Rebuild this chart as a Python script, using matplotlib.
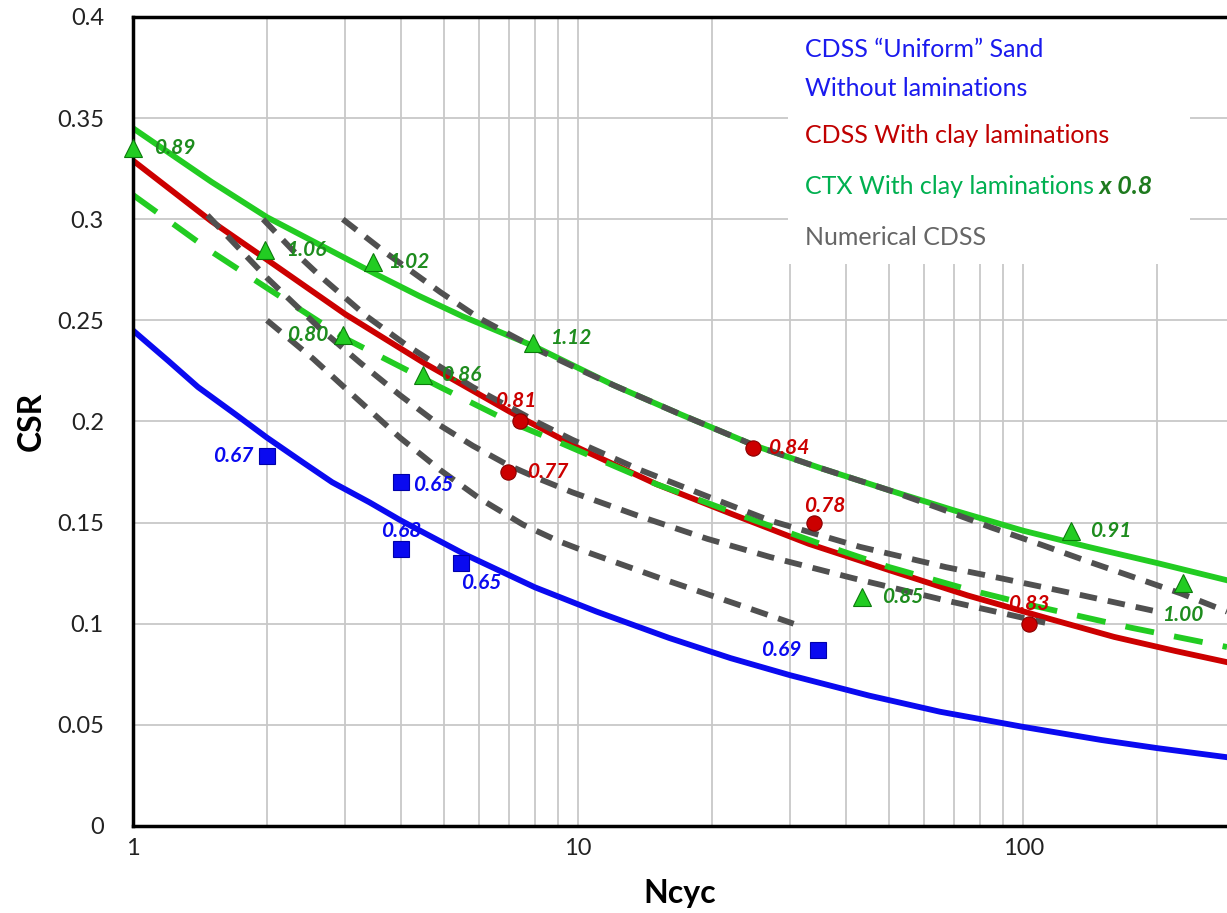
import matplotlib.pyplot as plt
from matplotlib.patches import Rectangle

plt.rcParams['font.family'] = ['Lato', 'DejaVu Sans']

# ---- fitted curves ----
blue_n = [1, 1.2, 1.4, 1.7, 2, 2.4, 2.8, 3.4, 4, 5.6, 8, 11, 16, 22, 30, 45, 65, 100, 150, 200, 287]
blue_csr = [0.245, 0.230, 0.217, 0.2035, 0.192, 0.180, 0.170, 0.160, 0.151, 0.134, 0.118, 0.106,
            0.093, 0.083, 0.0745, 0.0645, 0.0565, 0.049, 0.0425, 0.0385, 0.034]

red_n = [1, 1.5, 2, 3, 4.5, 7, 10, 15, 22, 33, 50, 75, 110, 160, 220, 287]
red_csr = [0.329, 0.299, 0.280, 0.253, 0.229, 0.205, 0.187, 0.169, 0.1545, 0.1395, 0.1265,
           0.114, 0.1035, 0.0935, 0.0865, 0.081]

green_n = [1, 1.5, 2, 2.7, 3.5, 4.4, 5.5, 8, 10, 12, 17, 25, 35, 50, 70, 100, 140, 200, 287]
green_csr = [0.345, 0.3185, 0.301, 0.286, 0.273, 0.262, 0.252, 0.237, 0.2265, 0.218, 0.2035,
             0.188, 0.177, 0.166, 0.156, 0.146, 0.138, 0.130, 0.1215]

gdash_n = [1, 1.5, 2, 3, 4.9, 7, 9, 15, 25, 35, 50, 75, 105, 175, 287]
gdash_csr = [0.312, 0.284, 0.266, 0.241, 0.217, 0.200, 0.190, 0.169, 0.151, 0.1395, 0.128,
             0.117, 0.109, 0.098, 0.0885]

# ---- numerical CDSS (gray dashed) ----
num_a_n = [1.47, 2, 2.63, 3.24, 3.98, 4.9, 5.8, 6.95, 8.2, 9.7, 13.8, 19.5, 27, 41.5, 67, 112]
num_a_csr = [0.302, 0.271, 0.246, 0.229, 0.213, 0.198, 0.188, 0.1785, 0.1715, 0.165, 0.153,
             0.142, 0.133, 0.1225, 0.1115, 0.1005]

num_b_n = [1.96, 2.3, 2.63, 3.35, 4.1, 4.9, 5.8, 6.9, 8.2, 9.7, 13.8, 19.5, 27, 43, 67, 89, 136, 205]
num_b_csr = [0.300, 0.284, 0.272, 0.252, 0.238, 0.227, 0.217, 0.208, 0.199, 0.191, 0.176, 0.163,
             0.151, 0.138, 0.128, 0.1225, 0.114, 0.1055]

num_c_n = [2.96, 3.72, 4.9, 6.0, 7.3, 8.2, 10, 12, 17, 25, 35, 50, 65, 85, 110, 139, 180, 226, 287]
num_c_csr = [0.300, 0.283, 0.264, 0.251, 0.241, 0.235, 0.226, 0.218, 0.2035, 0.188, 0.177, 0.166,
             0.157, 0.1475, 0.139, 0.131, 0.1225, 0.115, 0.106]

num_d_n = [2.0, 2.54, 3.12, 3.98, 4.9, 6, 7.52, 9, 10.6, 15.3, 22.5, 30.5]
num_d_csr = [0.250, 0.231, 0.213, 0.192, 0.176, 0.162, 0.149, 0.141, 0.135, 0.1225, 0.110, 0.100]

# ---- test points ----
sq_n = [2, 4, 4, 5.45, 34.6]
sq_csr = [0.183, 0.170, 0.137, 0.130, 0.087]
sq_lbl = ['0.67', '0.65', '0.68', '0.65', '0.69']

ci_n = [7.4, 6.95, 24.7, 33.8, 103]
ci_csr = [0.200, 0.175, 0.187, 0.150, 0.100]
ci_lbl = ['0.81', '0.77', '0.84', '0.78', '0.83']

tr_n = [1, 1.98, 3.46, 2.96, 4.48, 7.92, 43.5, 128, 228]
tr_csr = [0.335, 0.285, 0.279, 0.243, 0.223, 0.239, 0.113, 0.146, 0.120]
tr_lbl = ['0.89', '1.06', '1.02', '0.80', '0.86', '1.12', '0.85', '0.91', '1.00']

# label offsets in points (dx, dy, ha)
sq_off = [(-10, 0, 'right'), (9, -2, 'left'), (0, 13, 'center'), (0, -14, 'left'), (-12, 0, 'right')]
ci_off = [(-3, 15, 'center'), (14, 0, 'left'), (11, 0, 'left'), (8, 12, 'center'), (0, 14, 'center')]
tr_off = [(15, 0, 'left'), (15, 0, 'left'), (11, 0, 'left'), (-10, 0, 'right'), (13, 0, 'left'),
          (12, 3, 'left'), (14, 0, 'left'), (14, 0, 'left'), (0, -23, 'center')]

blue = '#0a0af0'
red = '#cc0000'
green = '#22cc22'
dkgreen = '#1e8c1e'
gray = '#505050'

fig = plt.figure(figsize=(12.27, 9.13), dpi=100)
ax = fig.add_axes([0.1084, 0.0953, 0.8916, 0.8861])

ax.set_xscale('log')
ax.set_xlim(1, 287)
ax.set_ylim(0, 0.4)
ax.set_yticks([0, 0.05, 0.1, 0.15, 0.2, 0.25, 0.3, 0.35, 0.4])
ax.set_yticklabels(['0', '0.05', '0.1', '0.15', '0.2', '0.25', '0.3', '0.35', '0.4'])
ax.set_xticks([1, 10, 100])
ax.set_xticklabels(['1', '10', '100'])
ax.xaxis.set_minor_formatter(plt.NullFormatter())
ax.tick_params(which='both', length=0, labelsize=17, colors='#222222')
ax.tick_params(axis='y', pad=21)
ax.tick_params(axis='x', pad=9)

ax.set_axisbelow(True)
ax.grid(True, which='major', color='#c8c8c8', lw=1.3)
ax.grid(True, which='minor', axis='x', color='#c8c8c8', lw=1.3)
for s in ['left', 'bottom', 'top']:
    ax.spines[s].set_linewidth(2.5)
ax.spines['right'].set_visible(False)

# white area behind the legend text
ax.add_patch(Rectangle((0.599, 0.695), 0.367, 0.305, transform=ax.transAxes,
                       facecolor='white', edgecolor='none', zorder=1))

# gray numerical curves on top of the coloured fits
for n, c in [(num_a_n, num_a_csr), (num_b_n, num_b_csr), (num_c_n, num_c_csr), (num_d_n, num_d_csr)]:
    ax.plot(n, c, color=gray, lw=4.2, dashes=(3.0, 1.9), zorder=3)

ax.plot(blue_n, blue_csr, color=blue, lw=4.2, zorder=2)
ax.plot(red_n, red_csr, color=red, lw=4.2, zorder=2)
ax.plot(green_n, green_csr, color=green, lw=4.2, zorder=2)
ax.plot(gdash_n, gdash_csr, color=green, lw=4.2, dashes=(5, 3.5), zorder=2)

ax.plot(sq_n, sq_csr, 's', color=blue, ms=11, mec='#0000aa', mew=0.8, zorder=4, clip_on=False)
ax.plot(ci_n, ci_csr, 'o', color=red, ms=11, mec='#880000', mew=0.8, zorder=4, clip_on=False)
ax.plot(tr_n, tr_csr, '^', color=green, ms=13, mec='#0b7a0b', mew=0.8, zorder=4, clip_on=False)

for pts, lbls, offs, col in [((sq_n, sq_csr), sq_lbl, sq_off, blue),
                            ((ci_n, ci_csr), ci_lbl, ci_off, red),
                            ((tr_n, tr_csr), tr_lbl, tr_off, dkgreen)]:
    for x, y, t, (dx, dy, ha) in zip(pts[0], pts[1], lbls, offs):
        ax.annotate(t, (x, y), xytext=(dx, dy), textcoords='offset points', ha=ha, va='center',
                    fontsize=15, fontweight='bold', fontstyle='italic', color=col, zorder=5)

# legend text
lx = 0.614
ax.text(lx, 0.960, 'CDSS \u201cUniform\u201d Sand', transform=ax.transAxes, color='#1a1aee',
        fontsize=18, va='center', zorder=5)
ax.text(lx, 0.912, 'Without laminations', transform=ax.transAxes, color='#1a1aee',
        fontsize=18, va='center', zorder=5)
ax.text(lx, 0.853, 'CDSS With clay laminations', transform=ax.transAxes, color='#c00000',
        fontsize=18, va='center', zorder=5)
t4 = ax.text(lx, 0.791, 'CTX With clay laminations', transform=ax.transAxes, color='#00b050',
             fontsize=18, va='center', zorder=5)
ax.annotate(' x 0.8', xy=(1, 0.5), xycoords=t4, va='center', ha='left', color='#1e7a1e',
            fontsize=18, fontweight='bold', fontstyle='italic', zorder=5)
ax.text(lx, 0.727, 'Numerical CDSS', transform=ax.transAxes, color='#666666',
        fontsize=18, va='center', zorder=5)

ax.set_xlabel('Ncyc', fontsize=23, fontweight='bold', labelpad=14)
ax.set_ylabel('CSR', fontsize=23, fontweight='bold', labelpad=8)

fig.savefig('out.png', dpi=100)
